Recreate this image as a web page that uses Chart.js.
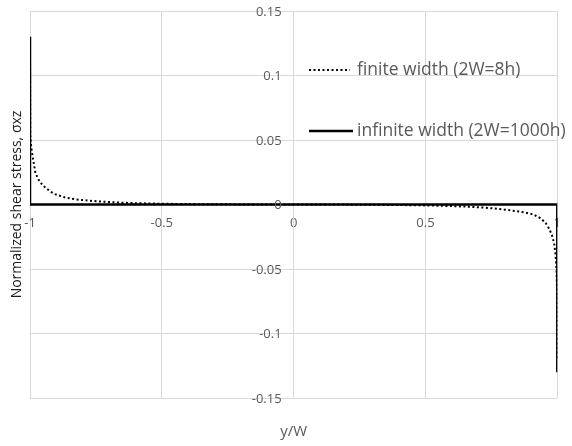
<!DOCTYPE html>
<html>
<head>
<meta charset="utf-8">
<script src="https://cdn.jsdelivr.net/npm/chart.js@4.4.1/dist/chart.umd.min.js"></script>
<style>
  html, body { margin: 0; padding: 0; background: #ffffff; }
  #wrap { width: 572px; height: 446px; }
</style>
</head>
<body>
<div id="wrap"><canvas id="chartXY" width="572" height="446"></canvas></div>
<script>
// finite width (2W=8h)
const finiteX = [-1, -0.999, -0.995, -0.989, -0.98, -0.97, -0.961, -0.95, -0.936, -0.92, -0.905, -0.88, -0.862, -0.83, -0.8, -0.76, -0.736, -0.7, -0.65, -0.612, -0.55, -0.5, -0.4, -0.3, -0.2, -0.1,
                 0, 0.1, 0.2, 0.3, 0.4, 0.5, 0.6, 0.65, 0.7, 0.75, 0.8, 0.84, 0.88, 0.91, 0.935, 0.955, 0.97, 0.98, 0.988, 0.993, 0.997, 0.999, 1];
const finiteY = [0.12, 0.053, 0.044, 0.036, 0.025, 0.02, 0.0173, 0.0145, 0.0122, 0.0098, 0.008, 0.0063, 0.0052, 0.0041, 0.0034, 0.0027, 0.0023, 0.0019, 0.0014, 0.0011, 0.0008, 0.0006, 0.0003, 0.00015, 0.00008, 0.00003,
                 0, -0.00003, -0.0001, -0.0002, -0.0004, -0.0007, -0.0012, -0.0016, -0.0021, -0.0029, -0.004, -0.005, -0.0063, -0.0078, -0.0105, -0.014, -0.019, -0.024, -0.03, -0.038, -0.05, -0.065, -0.12];

// infinite width (2W=1000h)
const infiniteX = [-1, -1, 1, 1];
const infiniteY = [0.13, 0, 0, -0.13];

const seriesLabels = ['finite width (2W=8h)', 'infinite width (2W=1000h)'];
const xTitle = 'y/W';
const yTitle = 'Normalized shear stress, σxz';

const FONT = '"Open Sans", "Liberation Sans", sans-serif';

function toPoints(xs, ys) {
    return xs.map((x, i) => ({ x: x, y: ys[i] }));
}

function fmt(v) {
    return String(Number(v.toFixed(2)));
}

const overlayText = {
    id: 'overlayText',
    afterDraw(chart) {
        const ctx = chart.ctx;
        const area = chart.chartArea;
        const xs = chart.scales.x;
        const ys = chart.scales.y;
        ctx.save();

        // y tick labels sit left of the vertical axis at x = 0
        ctx.fillStyle = '#595959';
        ctx.font = '13px ' + FONT;
        ctx.textAlign = 'right';
        ctx.textBaseline = 'middle';
        const axisX = xs.getPixelForValue(0);
        ys.ticks.forEach((t) => {
            ctx.fillText(fmt(t.value), axisX - 12, ys.getPixelForValue(t.value) + 1);
        });

        // axis titles
        ctx.font = '15px ' + FONT;
        ctx.textAlign = 'center';
        ctx.fillText(xTitle, axisX, 432);

        ctx.fillStyle = '#1a1a1a';
        ctx.font = '14px ' + FONT;
        ctx.translate(17, (area.top + area.bottom) / 2);
        ctx.rotate(-Math.PI / 2);
        ctx.fillText(yTitle, 0, 0);
        ctx.restore();

        // legend inside plot area
        const rows = [70, 131];
        chart.data.datasets.forEach((ds, i) => {
            const y = rows[i];
            ctx.save();
            ctx.strokeStyle = ds.borderColor;
            ctx.lineWidth = ds.borderWidth;
            ctx.setLineDash(ds.borderDash || []);
            ctx.beginPath();
            ctx.moveTo(309, y);
            ctx.lineTo(i === 0 ? 350 : 353, y);
            ctx.stroke();
            ctx.setLineDash([]);
            ctx.fillStyle = '#595959';
            ctx.font = '17.5px ' + FONT;
            ctx.textAlign = 'left';
            ctx.textBaseline = 'middle';
            ctx.fillText(ds.label, 357, y);
            ctx.restore();
        });
    }
};

const ctx = document.getElementById('chartXY');
new Chart(ctx, {
    type: 'scatter',
    data: {
        datasets: [{
            label: seriesLabels[0],
            data: toPoints(finiteX, finiteY),
            showLine: true,
            borderColor: '#000000',
            backgroundColor: '#000000',
            borderWidth: 2,
            borderDash: [2, 2.5],
            pointRadius: 0,
            fill: false,
            order: 1
        }, {
            label: seriesLabels[1],
            data: toPoints(infiniteX, infiniteY),
            showLine: true,
            borderColor: '#000000',
            backgroundColor: '#000000',
            borderWidth: 2.5,
            pointRadius: 0,
            fill: false,
            order: 0
        }]
    },
    options: {
        responsive: false,
        animation: false,
        layout: {
            autoPadding: false,
            padding: { left: 30, right: 12, top: 11, bottom: 48 }
        },
        plugins: {
            legend: { display: false },
            tooltip: { enabled: false }
        },
        scales: {
            x: {
                type: 'linear',
                position: { y: 0 },
                min: -1,
                max: 1,
                grid: { color: '#d9d9d9', drawTicks: false },
                border: { color: '#d9d9d9' },
                ticks: {
                    stepSize: 0.5,
                    padding: 11,
                    color: '#595959',
                    font: { family: FONT, size: 13 },
                    maxRotation: 0,
                    callback: (v) => fmt(v)
                }
            },
            y: {
                type: 'linear',
                position: { x: 0 },
                min: -0.15,
                max: 0.15,
                grid: { color: '#d9d9d9', drawTicks: false },
                border: { color: '#d9d9d9' },
                ticks: {
                    display: false,
                    stepSize: 0.05
                }
            }
        }
    },
    plugins: [overlayText]
});
</script>
</body>
</html>
